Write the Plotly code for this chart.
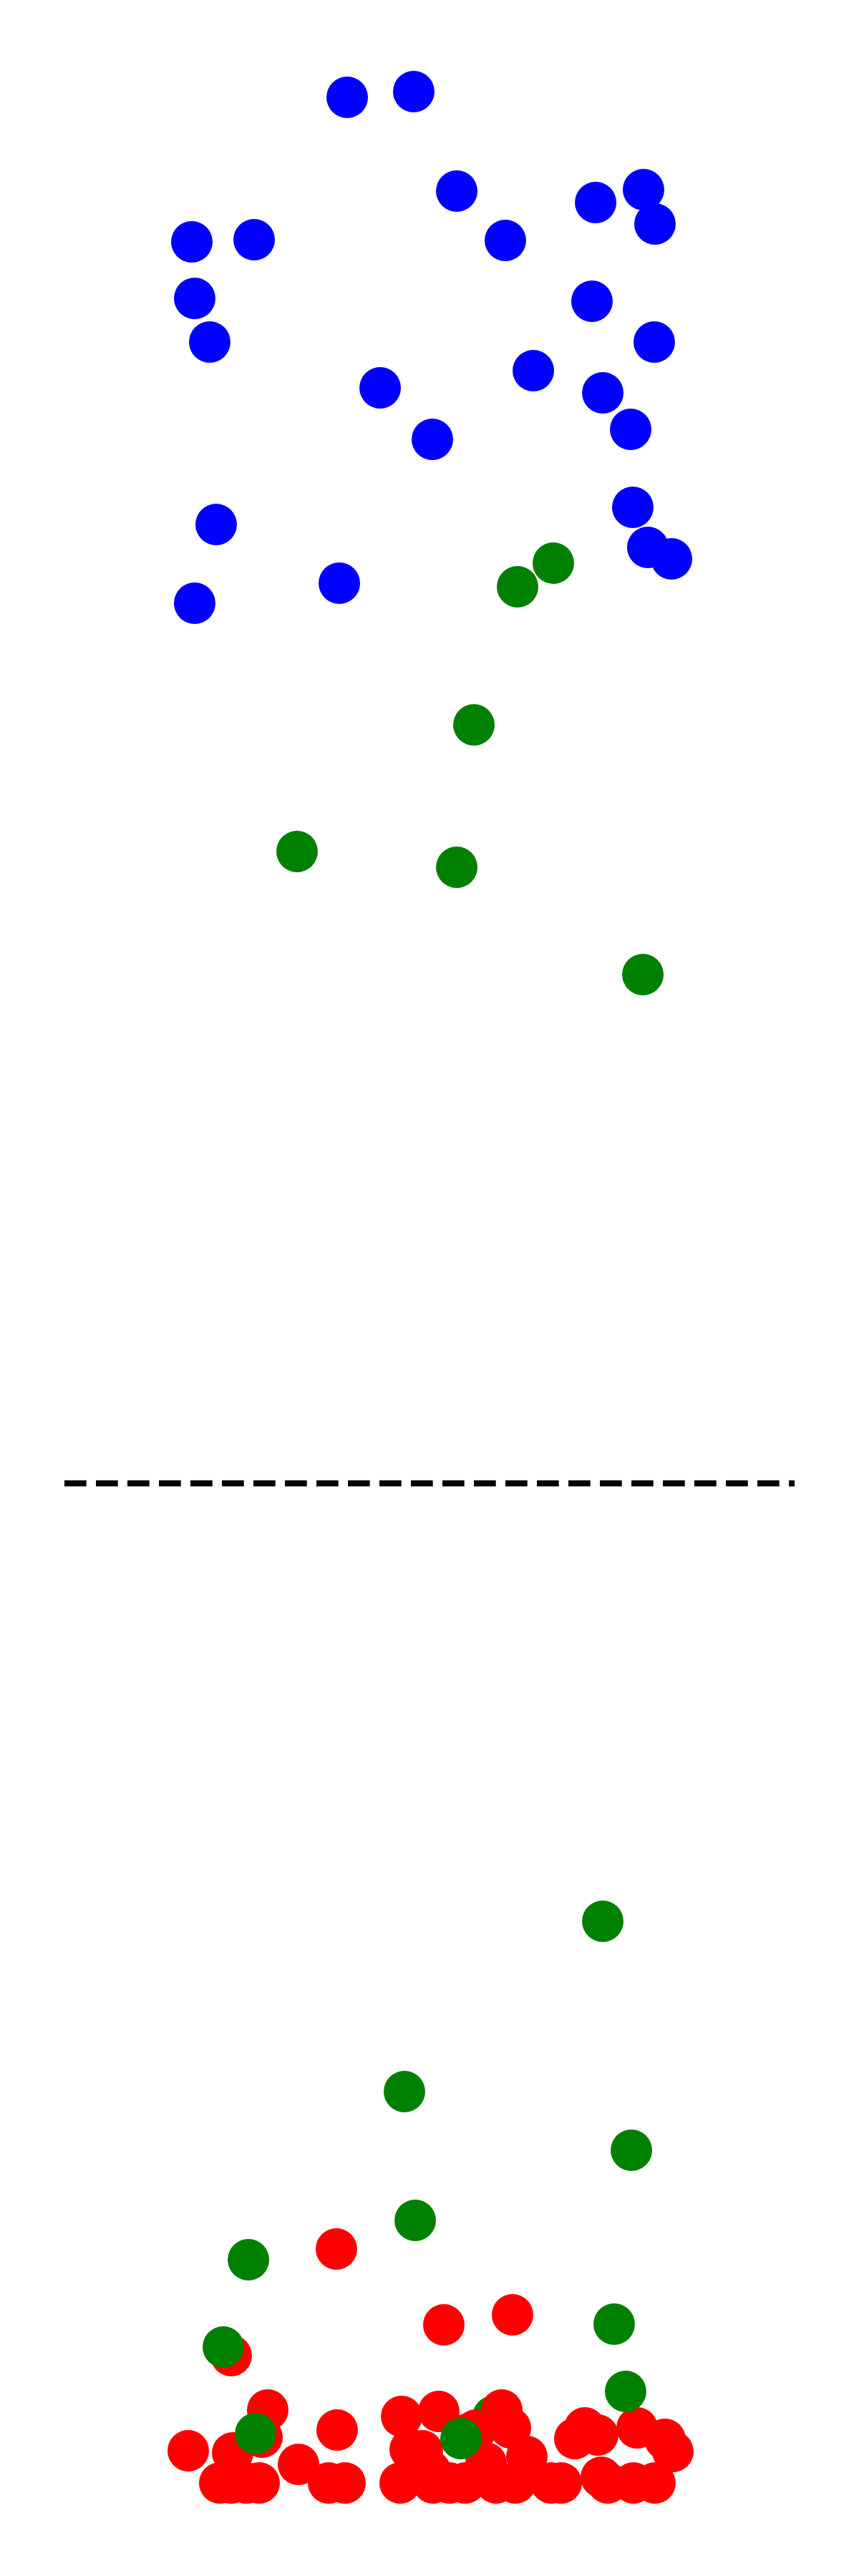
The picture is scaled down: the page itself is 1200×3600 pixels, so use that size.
import plotly.graph_objects as go

# ---- data (arbitrary units) ----
blue_x = [3.873, 4.784, 5.373, 7.275, 7.931, 8.088, 1.745, 2.598, 6.039, 1.784,
          7.225, 1.990, 8.078, 4.324, 6.422, 7.373, 7.755, 5.039, 2.078, 7.784,
          7.990, 8.314, 3.765, 1.784]
blue_y = [34.64, 34.72, 33.33, 33.17, 33.35, 32.87, 32.62, 32.65, 32.64, 31.83,
          31.79, 31.22, 31.22, 30.58, 30.82, 30.51, 30.00, 29.86, 28.67, 28.91,
          28.35, 28.19, 27.85, 27.57]

# green point that lies beneath a red one
green_under_x = [5.873]
green_under_y = [2.23]

red_x = [3.725, 2.284, 5.196, 6.137, 2.784, 2.706, 1.696, 2.304, 3.206, 3.735,
         4.618, 5.127, 4.735, 5.510, 6.108, 6.333, 4.902, 5.010, 5.775, 5.637,
         6.990, 7.127, 7.304, 7.843, 8.225, 8.333, 7.353,
         2.127, 2.284, 2.490, 2.667, 3.618, 3.843, 4.598, 5.049, 5.275, 5.490,
         5.912, 6.176, 6.667, 6.804, 7.441, 7.794, 8.088, 5.990]
red_y = [4.57, 3.08, 3.51, 3.65, 2.32, 1.94, 1.75, 1.72, 1.56, 2.04,
         2.23, 2.30, 1.77, 1.98, 2.07, 1.67, 1.75, 1.47, 1.58, 2.04,
         1.92, 2.07, 1.97, 2.07, 1.91, 1.74, 1.38,
         1.30, 1.30, 1.30, 1.30, 1.30, 1.30, 1.30, 1.30, 1.30, 1.30,
         1.30, 1.30, 1.30, 1.30, 1.30, 1.30, 1.30, 2.32]

green_x = [6.696, 6.206, 5.608, 3.186, 5.373, 7.922, 7.373, 4.657, 7.765, 4.804,
           2.520, 2.176, 7.529, 7.686, 2.618, 5.431]
green_y = [28.13, 27.80, 25.87, 24.10, 23.88, 22.38, 9.15, 6.77, 5.95, 4.97,
           4.42, 3.20, 3.52, 2.58, 1.99, 1.92]

threshold = 15.27
x_range = [0, 10]
y_range = [0, 36]

COL_BLUE = "#0000ff"
COL_RED = "#ff0000"
COL_GREEN = "#008000"
MSIZE = 58

fig = go.Figure()

def add_pts(xs, ys, color):
    fig.add_trace(go.Scatter(
        x=xs, y=ys, mode="markers",
        marker=dict(size=MSIZE, color=color, line=dict(width=0)),
        showlegend=False, hoverinfo="skip"))

add_pts(blue_x, blue_y, COL_BLUE)
add_pts(green_under_x, green_under_y, COL_GREEN)
add_pts(red_x, red_y, COL_RED)
add_pts(green_x, green_y, COL_GREEN)

fig.add_shape(type="line", xref="x", yref="y",
              x0=x_range[0], x1=x_range[1], y0=threshold, y1=threshold,
              line=dict(color="black", width=8.3, dash="30.7px,13.3px"),
              layer="below")

fig.update_layout(
    width=1200, height=3600,
    margin=dict(l=90, r=90, t=0, b=0, pad=0),
    paper_bgcolor="white", plot_bgcolor="white",
    xaxis=dict(range=x_range, visible=False, fixedrange=True),
    yaxis=dict(range=y_range, visible=False, fixedrange=True),
    showlegend=False,
)

fig.write_html("out.html")
